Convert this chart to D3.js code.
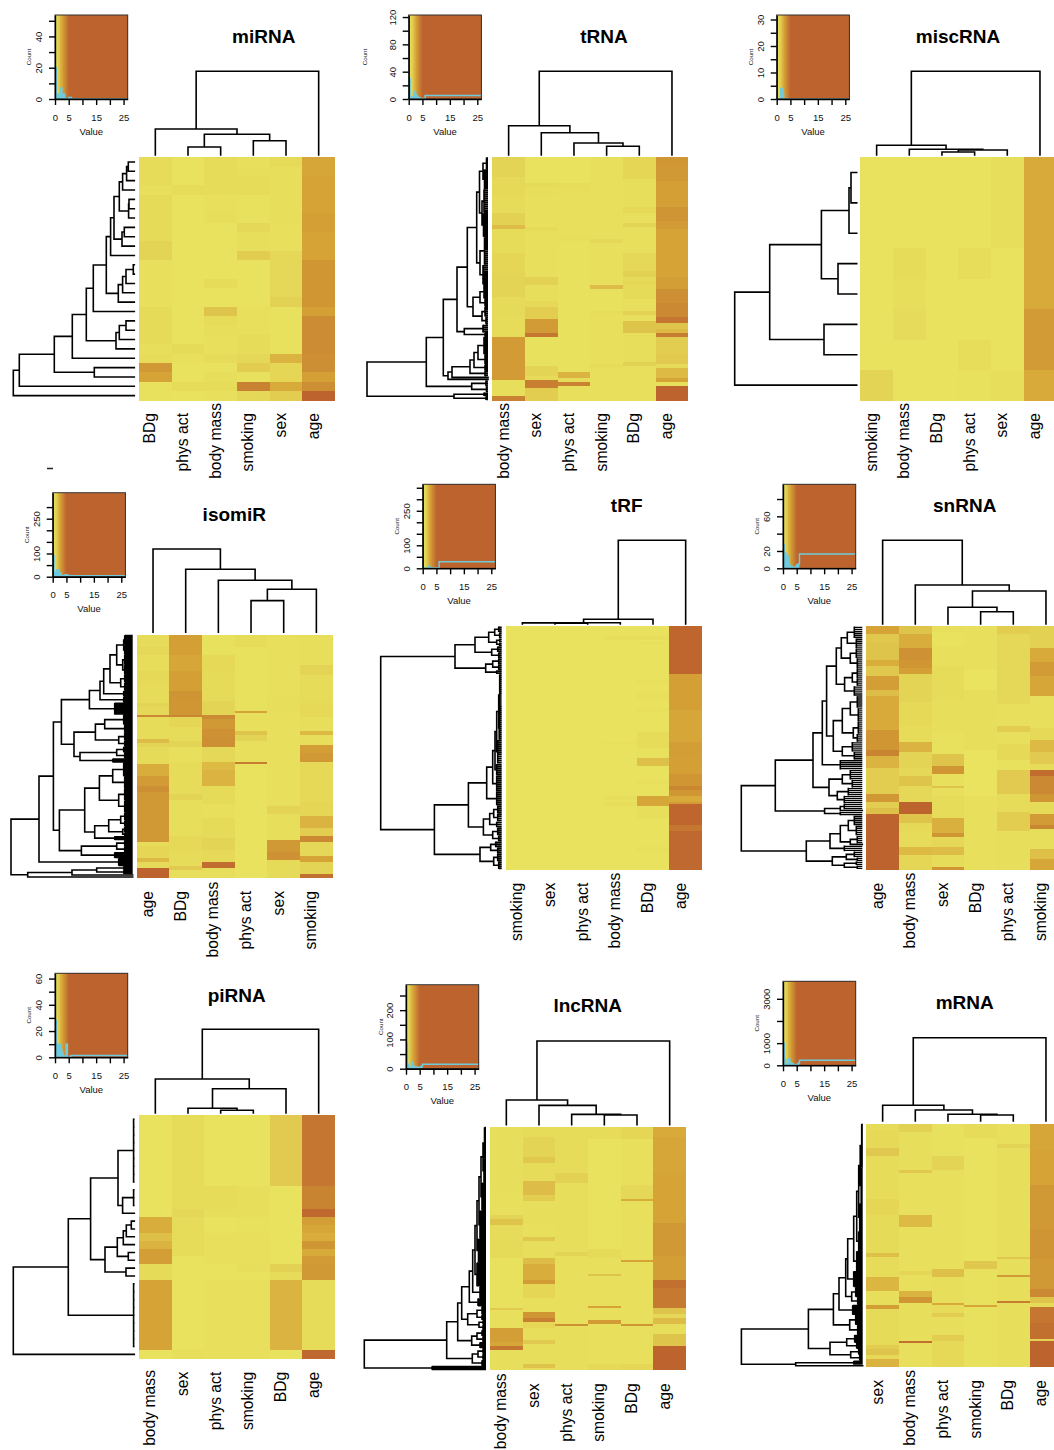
<!DOCTYPE html>
<html>
<head>
<meta charset="utf-8">
<script src="https://cdn.jsdelivr.net/npm/d3@7"></script>
<style>
  html, body { margin: 0; padding: 0; background: #fff; overflow: hidden; }
  svg { display: block; font-family: "Liberation Sans", Arial, sans-serif; }
</style>
</head>
<body>
<script>
// heat columns are run lengths: count of rows, value, count of rows, value ...
// trees: [height, left, right] is a merge, [height, n] a bundle of n leaves, 0 a single leaf

var histEdges = [0, .5, 1, 1.5, 2, 2.5, 3, 3.5, 4, 4.5, 5, 5.5, 6, 26.5];

// miRNA
var mirnaCols = ["BDg", "phys act", "body mass", "smoking", "sex", "age"];
var mirnaHeat = [
  [3,.5,1,.3,3,.6,2,.6,2,1,5,.3,4,.6,1,.35,1,.5,1,2.9,1,2.5,2,.2],
  [3,.15,1,.5,16,.15,1,.6,1,.3,2,.15,1,.5,1,.15],
  [4,.5,2,.3,1,.4,6,.15,1,.5,2,.15,1,1.5,1,.5,1,.4,1,.3,1,.3,1,.5,1,.15,1,.4,1,.5,1,.3],
  [1,.3,1,.4,2,.5,3,.2,1,.8,2,.4,1,1.2,5,.1,3,.3,1,.5,1,.5,1,.8,1,1.2,1,.2,1,3.8,1,.8],
  [1,.6,3,.4,3,.4,3,.3,1,.8,4,.8,1,1.1,5,.2,1,2,1,.9,1,.9,1,2.3,1,1.2],
  [2,2.4,1,2.5,3,2.5,2,2.6,3,2.5,5,3,1,2.6,4,3.4,2,3.3,1,2.6,1,3.3,1,5]
];
var mirnaColTree = [83.7,[26,0,[20.7,[8,0,0],[14.3,0,0]]],0];
var mirnaRowTree = [121,[115,[80,[62,[48,[41,[28,[23.7,[20.3,[15,[11.7,[7.7,[6,0,0],0],0],[5.7,[5.3,0,0],0]],[12.3,[10,0,0],0]],0],[16,[11.7,[8.3,[1,0,0],0],0],0]],0],[18.3,[15,[8.3,0,0],0],0]],0],[40,0,0]],0],0];
var mirnaHist = [20,3,2,3,7,3,3,.5,0,0,1,1,.2,.2];

// tRNA
var trnaCols = ["body mass", "sex", "phys act", "smoking", "BDg", "age"];
var trnaHeat = [
  [10,1,10,.7,8,.5,6,1.1,2,1.7,12,.5,10,.9,4,1,8,1,10,.6,10,.5,22,2.8,8,.4,2,3.8],
  [13,.15,2,.6,4,.4,16,.25,2,.6,23,.3,4,1.1,8,.4,3,.7,6,1.2,7,2.8,2,4.2,15,.2,5,1,2,.6,4,3.9,6,1.2],
  [13,.15,4,.45,22,.25,3,.4,66,.2,3,2,2,.5,2,3.8,7,.3],
  [41,.25,2,.8,21,.25,2,1.7,11,.2,2,.45,25,.25,2,.5,16,.25],
  [11,.9,14,.4,3,.7,5,.3,2,1,13,.3,9,.8,3,1.1,2,.6,2,.9,7,.6,6,.3,2,1.1,3,.3,6,1.5,15,.4,2,1.1,17,.3],
  [4,3,8,2.9,13,2.6,7,3.1,4,2.8,24,2.5,6,2.7,7,3.3,7,3.5,3,4.2,3,1.5,2,1.8,2,4,9,1.2,5,1.3,2,.6,5,1.8,2,2.5,2,.3,7,5]
];
var trnaColTree = [83.7,[29.3,0,[22.3,0,[12,0,[8.7,0,0]]]],0];
var trnaRowTree = [121,[61.7,[44.7,[31,[20.7,[11.3,[8.5,[5,[1.5,6],[3.5,10]],[6,[4,12],[4.5,12]]],[8,[3.5,14],[5,10]]],[15,[8,[4,7],[3,4]],[6,[3,5],[2,4]]]],[23.7,[5,4],[3,2]]],[40,[36,[18,[14,[10,[4,9],[3,5]],[3,3]],[3,3]],0],0]],[16.3,[2,3],[1.5,3]]],[34,[4,2],[2,2]]];
var trnaHist = [30,4,1,3,11,6,3,2,1,0,0,1,5,5];

// miscRNA
var miscCols = ["smoking", "body mass", "BDg", "phys act", "sex", "age"];
var miscHeat = [
  [7,.15,1,1],
  [3,.15,1,.5,1,.35,1,.55,2,.15],
  [8,.15],
  [3,.15,1,.45,2,.15,1,.45,1,.2],
  [3,.4,4,.15,1,.35],
  [5,2.3,2,2.8,1,2.3]
];
var miscColTree = [83.7,[9.7,0,[5.7,0,[5,[3,0,0],0]]],0];
var miscRowTree = [122,[87,[35.3,[7.7,[5.7,0,0],0],[18.7,0,0]],[32.7,0,0]],0];
var miscHist = [0,0,0,4,2,0,0,0,0,0,0,0,0,0];

// isomiR
var isomirCols = ["age", "BDg", "body mass", "phys act", "sex", "smoking"];
var isomirHeat = [
  [6,.5,4,.8,8,.45,6,.7,10,.5,2,1,4,.8,1,3.5,11,.5,2,1.7,2,1,9,.6,6,2.2,5,2.8,3,3.3,25,2.9,2,.5,6,.9,2,1.8,3,.6,5,5],
  [10,2.6,8,2.4,10,2.6,5,3.1,7,3,1,3.6,5,.9,7,.5,3,1,8,.3,16,.5,3,1,18,.4,8,.7,7,.5,2,1.3,4,.4],
  [10,.2,8,.7,15,.6,7,1,2,3.4,5,2.9,4,3.2,5,3.3,8,.8,4,1.8,8,2,9,.6,7,.3,10,.6,6,1,6,.7,3,4.6,5,.4],
  [6,.5,32,.2,1,2.5,9,.3,2,1.5,3,1,11,.3,1,4,57,.15],
  [30,.25,8,.4,48,.25,4,1,13,.35,6,2.9,4,3.2,9,.6],
  [15,.4,5,1,14,.5,7,.7,7,.4,2,1.8,5,.4,4,2.7,5,2.9,20,.7,7,.9,6,2,4,1.2,3,3.5,7,.8,3,2.5,6,1,1,4.5]
];
var isomirColTree = [83.3,0,[63,0,[52,0,[43,[31.7,0,0],0]]]];
var isomirRowTree = [121.7,[93.7,[79.3,[71.3,[43.3,[32.7,[29,[22.7,[16,[9,[8,5],[8,5]],[10,[8,5],[8,5]]],[12,[8,4],[8,4]]],[9,3]],[9,3]],[18,6]],[58.7,[37.3,[28,[9,5],[8,4]],[14,[8,4],[8,3]]],[52.7,[16,[9,3],[8,3]],[20,2]]]],[73.3,[48,[33.3,[20,[9,7],[8,6]],[14,[8,6],[8,6]]],[38,[24,[12,[8,4],[8,3]],[10,[8,3],[8,2]]],[18,2]]],[51.3,[16,[8,3],[8,3]],[18,3]]]],[14,4]],[105,[60.7,[36,[9,2],[9,2]],0],0]];
var isomirHist = [90,20,10,30,20,15,5,3,2,8,8,2,4,4];

// tRF
var trfCols = ["smoking", "sex", "phys act", "body mass", "BDg", "age"];
var trfHeat = [
  [122,.1],
  [122,.1],
  [122,.1],
  [5,.1,2,.35,51,.1,1,.25,26,.1,2,.4,1,.1,2,.4,32,.1],
  [5,.1,2,.4,1,.1,1,.3,18,.1,2,.3,4,.1,4,.3,4,.1,2,.3,10,.1,8,.5,5,.2,4,1.6,7,.15,2,.3,6,.15,5,2.4,6,.4,15,.15,2,.3,9,.15],
  [24,4.9,18,2.6,16,2.4,8,2.7,8,2.6,6,3,2,3.6,3,3,3,2.3,1,2.8,11,4.9,3,4.2,19,4.8]
];
var trfColTree = [83.7,[4.7,[1.3,[1.1,0,[.9,0,0]],0],0],0];
var trfRowTree = [121,[46.7,[26.7,[13,[7,[3,3],[2,3]],[5,[2,2],[2,2]]],[10,[4,3],[3,3]]],[16,[9,[3,3],[3,3]],[5,[2,1],[2,1]]]],[67.3,[33.3,[15,[9,[6.7,[5,[3,[2,21],[2.5,12]],[4,12]],[5,6]],[5,8]],[5,7]],[18.3,[12,[8,[4,4],[4,4]],[5,3]],[9,[4,4],[3,3]]]],[21.7,[11,[6,3],[4,3]],[8,[4,4],[3,4]]]]];
var trfHist = [1,1,1,1,10,1,1,1,1,1,1,1,29,29];

// snRNA
var snrnaCols = ["age", "body mass", "sex", "BDg", "phys act", "smoking"];
var snrnaHeat = [
  [4,2.5,4,1.4,9,1.5,3,2.2,5,1.4,7,2.7,3,1.7,17,2.3,10,3,3,3.7,6,2,13,1.2,4,2.9,3,1.2,3,1.6,28,5],
  [4,1.5,7,2.2,6,3.2,4,3,3,2.6,14,1,12,.7,8,.5,5,2,8,1,4,.8,5,1.5,8,.8,6,5,5,1.5,4,.7,8,.5,4,1.8,7,.9],
  [3,.4,7,.1,10,.3,17,.5,16,.4,11,.2,6,1.5,4,3,6,.3,1,1.5,4,.3,11,.5,8,2.1,2,3,5,.8,4,1.7,6,.5,1,3],
  [22,.25,10,.05,30,.4,23,.05,9,.3,28,.25],
  [4,1.2,35,.8,11,.3,3,1.2,6,.3,8,.7,5,.2,12,1.3,9,.5,10,1.2,19,.4],
  [11,1.1,7,2.3,7,2.8,10,2.4,16,.3,6,.7,6,1.8,6,1.3,3,.5,3,4.6,9,3.5,4,3,6,.6,6,2.8,2,3.6,10,.4,5,1.6,5,2.4]
];
var snrnaColTree = [83.7,0,[39,0,[33,[16.7,0,[12.3,0,0]],0]]];
var snrnaRowTree = [121,[87,[49.3,[40,[35.7,[26,[21,[15,[8,6],[6,5]],[12,[6,5],[5,5]]],[17.7,[10,[5,5],[5,4]],[8,5]]],[29,[20,[12,[5,6],[4,7]],[9,[4,6],[5,4]]],[20,[10,5],[8,4]]]],[22,5]],[33.3,[20,[12,5],[10,4]],[25,[14,4],[18,4]]]],[37.7,[22,[18,3],0],[22,2]]],[56,[32.3,[22,[14,[8,5],[6,5]],[12,[5,4],0]],[18,3]],[30,[16,[8,3],[5,2]],[18,[6,2],[5,2]]]]];
var snrnaHist = [27,18,15,14,5,2,2,1,1,2,4,5,16.5,16.5];

// piRNA
var pirnaCols = ["body mass", "sex", "phys act", "smoking", "BDg", "age"];
var pirnaHeat = [
  [13,.15,2,2.2,1,1.6,1,2,2,2.7,2,.6,9,2.5,1,.15],
  [12,.5,1,.8,5,.5,12,.1,1,.4],
  [9,.15,3,.5,1,.4,2,.1,4,.3,2,.1,9,.25,1,.3],
  [9,.15,4,.4,2,.2,4,.3,1,.4,1,.15,9,.3,1,.3],
  [9,1.3,4,.12,6,.1,1,1.1,1,.5,9,2,1,.1],
  [9,4.2,3,3.7,1,4.8,1,2.7,1,2.4,1,2.2,1,3,1,2.3,1,2.8,2,2.9,9,.5,1,4.8]
];
var pirnaColTree = [83.7,[34,0,[24.3,[4.7,0,[2.7,0,0]],0]],0];
var pirnaRowTree = [121,[66,[43.7,[16.3,[.7,9],[11.7,[.7,3],0]],[29.3,[17,[11,[8,[3,0,0],0],0],[6,0,0]],[8.3,0,0]]],[.7,9]],0];
var pirnaHist = [28,6,10,10,6,3,1,1,10,0,0,1,1.3,1.3];

// lncRNA
var lncrnaCols = ["body mass", "sex", "phys act", "smoking", "BDg", "age"];
var lncrnaHeat = [
  [32,.4,12,.3,2,1,3,1.5,8,.5,9,.6,25,.2,1,1.3,9,.3,7,2.7,2,2.4,2,4.2,10,.4],
  [5,.5,10,1,3,1.4,9,.5,7,1.7,3,1.2,11,.4,7,.3,2,1.4,9,.4,3,1.7,8,2.2,2,2.8,7,.9,7,.3,3,3,2,3.9,3,.9,6,.4,2,1.3,10,.4,2,1.5,1,.4],
  [23,.5,5,1.1,35,.4,2,1,34,.3,1,3.2,22,.35],
  [6,.5,55,.15,5,.6,8,.3,1,1.5,15,.3,1,2.5,6,.3,2,2.8,20,.3,3,.7],
  [6,.9,23,.3,7,.8,1,2.2,30,.3,1,2.5,31,.3,1,3,19,.25,3,.9],
  [5,2.3,18,2.4,25,2.5,17,2.9,12,2.7,4,4.5,10,4.1,3,1.5,2,.8,3,1.7,5,.4,6,1.5,12,5]
];
var lncrnaColTree = [83.7,[24.7,0,[19.3,0,[10.3,0,[9.7,0,0]]]],0];
var lncrnaRowTree = [121.7,[39.3,[28.3,[24.3,[16.7,[13.3,[11,[9,[7,[5,[3,[1.5,16],[2,12]],[4,14]],[6,14]],[7.5,12]],[9,12]],[6,6]],[8,4]],[18.3,[9,[4,4],[4,3]],[7,[3,2],[3,3]]]],[14.3,[9,[4,3],[3,3]],[6,3]]],[13.7,[8,[3,3],[3,3]],[4,3]]],[54,2]];
var lncrnaHist = [86,15,5,5,22,8,4,6,5,4,5,8,15,15];

// mRNA
var mrnaCols = ["sex", "body mass", "phys act", "smoking", "BDg", "age"];
var mrnaHeat = [
  [3,.5,9,.7,4,1.4,22,.5,8,.9,19,.6,2,1.6,10,.5,7,1.9,7,.4,2,2.7,18,.6,2,1.2,3,1.5,2,.7,4,2],
  [4,1.1,19,.4,2,1.4,21,.3,6,1.8,22,.3,2,.9,8,.3,3,2,3,3,19,.4,1,4.5,12,.3],
  [16,.2,7,1,50,.3,4,1.6,13,.4,1,2.3,4,.5,2,1.2,9,.4,3,1.2,13,.7],
  [7,.5,62,.15,4,1.4,18,.2,1,2.4,30,.2],
  [10,.3,2,1,55,.4,1,1.4,8,.4,1,2.8,12,.4,1,4,32,.4],
  [13,2.4,18,2.5,22,2.9,15,3.1,15,2.9,4,3.5,3,1.5,2,.6,8,4.2,8,4.5,1,1,13,5]
];
var mrnaColTree = [83.3,[15.7,0,[11,0,[6.7,0,[6,0,0]]]],0];
var mrnaRowTree = [121.3,[54.3,[29.3,[23.7,[17,[15,[9,[6,[4,[2.5,[1,22],[1.5,18]],[3,14]],[4,10]],[6,10]],[9,8]],[11,[7,5],[5,4]]],[10,5]],[13,[7,5],[5,5]]],[32.7,[16,[8,4],[6,3]],[12,[4,3],[3,3]]]],[67,[9,2],0]];
var mrnaHist = [1000,250,60,60,300,130,80,40,10,10,40,100,225,225];

var width = 1054, height = 1450;

var panels = [
  {title: "miRNA", cols: mirnaCols, heat: mirnaHeat, colTree: mirnaColTree, rowTree: mirnaRowTree, hist: mirnaHist, rows: 26,
   yMax: 53.7, yTicks: [0,10,20,30,40,50], yLabels: [0,20,40], combWidth: 1.6,
   heatX: 139, heatY: 157.3, histX: 55, histY: 15, rowBase: 134.3, colBase: 155, titleX: 263.7, titleY: 42.7, labelTop: 413, massTop: 403, countDx: -25.7},
  {title: "tRNA", cols: trnaCols, heat: trnaHeat, colTree: trnaColTree, rowTree: trnaRowTree, hist: trnaHist, rows: 122,
   yMax: 123, yTicks: [0,20,40,60,80,100,120], yLabels: [0,40,80,120], combWidth: 1.9,
   heatX: 492.3, heatY: 157.3, histX: 408.7, histY: 15, rowBase: 488, colBase: 155, titleX: 604, titleY: 42.7, labelTop: 413, massTop: 403, countDx: -44},
  {title: "miscRNA", cols: miscCols, heat: miscHeat, colTree: miscColTree, rowTree: miscRowTree, hist: miscHist, rows: 8,
   yMax: 31.7, yTicks: [0,5,10,15,20,25,30], yLabels: [0,10,20,30], combWidth: 1.6,
   heatX: 860.3, heatY: 157.3, histX: 776.7, histY: 15, rowBase: 856.7, colBase: 155, titleX: 958, titleY: 42.7, labelTop: 413, massTop: 403, countDx: -25.3},
  {title: "isomiR", cols: isomirCols, heat: isomirHeat, colTree: isomirColTree, rowTree: isomirRowTree, hist: isomirHist, rows: 122,
   yMax: 362, yTicks: [0,50,100,150,200,250,300], yLabels: [0,100,250], combWidth: 2.3,
   heatX: 136.7, heatY: 635, histX: 52.7, histY: 492.7, rowBase: 132.7, colBase: 632.3, titleX: 234.3, titleY: 520.7, labelTop: 891, massTop: 881.7, countDx: -26},
  {title: "tRF", cols: trfCols, heat: trfHeat, colTree: trfColTree, rowTree: trfRowTree, hist: trfHist, rows: 122,
   yMax: 365, yTicks: [0,50,100,150,200,250,300,350], yLabels: [0,100,250], combWidth: 1.7,
   heatX: 506, heatY: 626.3, histX: 422.7, histY: 484.3, rowBase: 501.7, colBase: 624, titleX: 626.7, titleY: 512.3, labelTop: 882.7, massTop: 872.7, countDx: -26},
  {title: "snRNA", cols: snrnaCols, heat: snrnaHeat, colTree: snrnaColTree, rowTree: snrnaRowTree, hist: snrnaHist, rows: 122,
   yMax: 97, yTicks: [0,20,40,60,80], yLabels: [0,20,60], combWidth: 1.3,
   heatX: 866.3, heatY: 626.3, histX: 783, histY: 484.3, rowBase: 862.3, colBase: 624, titleX: 964.7, titleY: 512.3, labelTop: 882.7, massTop: 872.7, countDx: -25.7},
  {title: "piRNA", cols: pirnaCols, heat: pirnaHeat, colTree: pirnaColTree, rowTree: pirnaRowTree, hist: pirnaHist, rows: 31,
   yMax: 64, yTicks: [0,10,20,30,40,50,60], yLabels: [0,20,40,60], combWidth: 1.6,
   heatX: 139, heatY: 1115.3, histX: 55, histY: 973.3, rowBase: 134.3, colBase: 1113, titleX: 236.7, titleY: 1001.7, labelTop: 1371.7, massTop: 1370, countDx: -25.7},
  {title: "lncRNA", cols: lncrnaCols, heat: lncrnaHeat, colTree: lncrnaColTree, rowTree: lncrnaRowTree, hist: lncrnaHist, rows: 122,
   yMax: 287, yTicks: [0,50,100,150,200,250], yLabels: [0,100,200], combWidth: 2.3,
   heatX: 490, heatY: 1127, histX: 406, histY: 984.7, rowBase: 486, colBase: 1124.7, titleX: 587.7, titleY: 1012.3, labelTop: 1383.3, massTop: 1373.3, countDx: -25},
  {title: "mRNA", cols: mrnaCols, heat: mrnaHeat, colTree: mrnaColTree, rowTree: mrnaRowTree, hist: mrnaHist, rows: 122,
   yMax: 3790, yTicks: [0,1000,2000,3000], yLabels: [0,1000,3000], combWidth: 2.3,
   heatX: 866.3, heatY: 1123.7, histX: 783, histY: 981.3, rowBase: 862.7, colBase: 1121, titleX: 964.7, titleY: 1009, labelTop: 1380, massTop: 1370, countDx: -25.7}
];

var heatW = 196, heatH = 243, histW = 72.7, histH = 84;

var color = d3.scaleLinear()
    .domain([0, 1, 2.5, 5])
    .range(["#e9e45f", "#e4d455", "#d5a336", "#bd632e"])
    .clamp(true);

var svg = d3.select("body").append("svg")
    .attr("width", width)
    .attr("height", height);

function expandRuns(runs, n) {
  var out = [];
  for (var i = 0; i < runs.length; i += 2) {
    for (var k = 0; k < runs[i]; k++) out.push(runs[i + 1]);
  }
  while (out.length < n) out.push(out[out.length - 1]);
  return out.slice(0, n);
}

// walks a tree, adds its branches through state.seg and bundles through state.tooth,
// returns the height and position of the node
function drawTree(node, state) {
  if (!Array.isArray(node)) {
    var leaf = state.pos(state.next++);
    return {h: 0, p: leaf};
  }
  if (node.length === 2) {
    var first = state.next, last = first + node[1] - 1;
    for (var i = first; i <= last; i++) {
      state.tooth(0, state.pos(i), node[0], state.pos(i));
    }
    state.seg(node[0], state.pos(first), node[0], state.pos(last));
    state.next = last + 1;
    return {h: node[0], p: (state.pos(first) + state.pos(last)) / 2};
  }
  var a = drawTree(node[1], state), b = drawTree(node[2], state);
  state.seg(a.h, a.p, node[0], a.p);
  state.seg(b.h, b.p, node[0], b.p);
  state.seg(node[0], a.p, node[0], b.p);
  return {h: node[0], p: (a.p + b.p) / 2};
}

function drawHist(g, p) {
  var x = d3.scaleLinear().domain([0, 26.5]).range([0, histW]);
  var y = d3.scaleLinear().domain([0, p.yMax]).range([histH, 0]);

  g.selectAll(".key")
    .data(d3.range(0, 26.5, 0.25))
    .enter().append("rect")
      .attr("class", "key")
      .attr("x", function(d) { return x(d); })
      .attr("y", 0)
      .attr("width", x(0.25) + 0.3)
      .attr("height", histH)
      .attr("shape-rendering", "crispEdges")
      .attr("fill", function(d) { return color(d); });

  var pts = histEdges.map(function(e, i) { return [e, p.hist[i]]; });

  g.append("path")
      .attr("d", d3.area().curve(d3.curveStepAfter)
        .x(function(d) { return x(d[0]); })
        .y0(histH)
        .y1(function(d) { return y(d[1]); })(pts.slice(0, 13)))
      .attr("fill", "#6fcbdc");

  g.append("path")
      .attr("d", d3.line().curve(d3.curveStepAfter)
        .x(function(d) { return x(d[0]); })
        .y(function(d) { return y(d[1]); })(pts))
      .attr("fill", "none")
      .attr("stroke", "#6fcbdc")
      .attr("stroke-width", 1.5);

  g.append("rect")
      .attr("width", histW)
      .attr("height", histH)
      .attr("fill", "none")
      .attr("stroke", "#333")
      .attr("stroke-width", 1);

  var xAxis = g.append("g")
      .attr("transform", "translate(0," + histH + ")")
      .call(d3.axisBottom(x)
        .tickValues([0, 5, 10, 15, 20, 25])
        .tickSize(6)
        .tickSizeOuter(0)
        .tickFormat(function(d) { return [0, 5, 15, 25].indexOf(d) >= 0 ? d : ""; }));
  xAxis.selectAll("text").attr("y", 15);

  var yAxis = g.append("g")
      .call(d3.axisLeft(y)
        .tickValues(p.yTicks)
        .tickSize(6)
        .tickSizeOuter(0)
        .tickFormat(function(d) { return p.yLabels.indexOf(d) >= 0 ? d : ""; }));
  yAxis.selectAll("text")
      .attr("transform", "rotate(-90)")
      .attr("x", 0)
      .attr("y", -13)
      .attr("dy", 0)
      .style("text-anchor", "middle");

  g.selectAll(".domain").attr("stroke", "#000").attr("stroke-width", 1.4);
  g.selectAll(".tick line").attr("stroke", "#000").attr("stroke-width", 1.4);
  g.selectAll(".tick text")
      .attr("fill", "#111")
      .style("font-size", "9.5px")
      .style("font-family", '"Liberation Sans", Arial, sans-serif');

  g.append("text")
      .attr("x", histW / 2)
      .attr("y", histH + 35.5)
      .attr("text-anchor", "middle")
      .attr("fill", "#111")
      .style("font-size", "9.5px")
      .text("Value");

  g.append("text")
      .attr("transform", "translate(" + (p.countDx + 2) + "," + (histH / 2) + ") rotate(-90)")
      .attr("text-anchor", "middle")
      .attr("fill", "#111")
      .style("font-size", "6.2px")
      .text("Count");
}

panels.forEach(function(p) {
  var g = svg.append("g").attr("class", "panel");

  var x = d3.scaleBand().domain(p.cols).range([p.heatX, p.heatX + heatW]);
  var y = d3.scaleBand().domain(d3.range(p.rows)).range([p.heatY, p.heatY + heatH]);

  var cells = [];
  p.heat.forEach(function(runs, c) {
    expandRuns(runs, p.rows).forEach(function(v, r) {
      cells.push({col: p.cols[c], row: r, value: v});
    });
  });

  g.append("g").selectAll("rect")
    .data(cells)
    .enter().append("rect")
      .attr("x", function(d) { return x(d.col); })
      .attr("y", function(d) { return y(d.row); })
      .attr("width", x.bandwidth())
      .attr("height", y.bandwidth() + 0.4)
      .attr("shape-rendering", "crispEdges")
      .attr("fill", function(d) { return color(d.value); });

  // column dendrogram
  var colH = d3.scaleLinear().domain([0, p.colTree[0]]).range([p.colBase, p.colBase - p.colTree[0]]);
  var colPath = d3.path();
  function colSeg(h0, p0, h1, p1) { colPath.moveTo(p0, colH(h0)); colPath.lineTo(p1, colH(h1)); }
  drawTree(p.colTree, {
    next: 0,
    pos: function(i) { return x(p.cols[i]) + x.bandwidth() / 2; },
    seg: colSeg,
    tooth: colSeg
  });

  // row dendrogram
  var rowH = d3.scaleLinear().domain([0, p.rowTree[0]]).range([p.rowBase, p.rowBase - p.rowTree[0]]);
  var rowPath = d3.path(), combPath = d3.path();
  drawTree(p.rowTree, {
    next: 0,
    pos: function(i) { return y(i) + y.bandwidth() / 2; },
    seg: function(h0, p0, h1, p1) { rowPath.moveTo(rowH(h0), p0); rowPath.lineTo(rowH(h1), p1); },
    tooth: function(h0, p0, h1, p1) { combPath.moveTo(rowH(h0), p0); combPath.lineTo(rowH(h1), p1); }
  });

  g.append("path")
      .attr("d", combPath.toString())
      .attr("fill", "none")
      .attr("stroke", "#000")
      .attr("stroke-width", p.combWidth);

  g.selectAll(".tree")
    .data([colPath.toString(), rowPath.toString()])
    .enter().append("path")
      .attr("class", "tree")
      .attr("d", function(d) { return d; })
      .attr("fill", "none")
      .attr("stroke", "#000")
      .attr("stroke-width", 1.6)
      .attr("stroke-linecap", "square");

  // column labels, read upward, the long one sits a bit higher
  g.selectAll(".collabel")
    .data(p.cols)
    .enter().append("text")
      .attr("class", "collabel")
      .attr("transform", function(d) {
        var top = d === "body mass" ? p.massTop : p.labelTop;
        return "translate(" + (x(d) + x.bandwidth() / 2) + "," + top + ") rotate(-90)";
      })
      .attr("text-anchor", "end")
      .attr("fill", "#000")
      .style("font-size", "15.7px")
      .text(function(d) { return d; });

  g.append("text")
      .attr("x", p.titleX)
      .attr("y", p.titleY)
      .attr("text-anchor", "middle")
      .attr("fill", "#000")
      .style("font-size", "19px")
      .style("font-weight", "bold")
      .text(p.title);

  drawHist(g.append("g").attr("transform", "translate(" + p.histX + "," + p.histY + ")"), p);
});

// stray dash under the first panel
svg.append("line")
    .attr("x1", 47).attr("x2", 53)
    .attr("y1", 468.5).attr("y2", 468.5)
    .attr("stroke", "#222")
    .attr("stroke-width", 1.5);
</script>
</body>
</html>
